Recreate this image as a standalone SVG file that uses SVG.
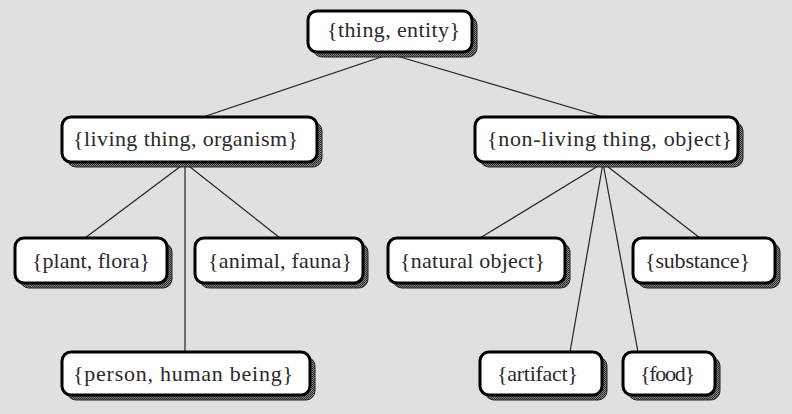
<svg xmlns="http://www.w3.org/2000/svg" width="792" height="414" viewBox="0 0 792 414">
<defs>
<pattern id="dots" width="2" height="2" patternUnits="userSpaceOnUse">
<rect width="2" height="2" fill="#888"/>
<rect width="1" height="1" fill="#222"/>
<rect x="1" y="1" width="1" height="1" fill="#333"/>
</pattern>
</defs>
<style>
.bg{fill:#e0e0e0}
.edge{stroke:#222;stroke-width:1.2;fill:none}
.shadow{fill:url(#dots);stroke:#222;stroke-width:1}
.box{fill:#fff;stroke:#000;stroke-width:3}
.label{font-family:'Liberation Serif','Times New Roman',serif;font-size:22px;fill:#2a2a2a}
</style>
<rect class="bg" x="0" y="0" width="792" height="414"/>
<g id="connectors">
<line class="edge" x1="390" y1="54" x2="203" y2="117"/>
<line class="edge" x1="390" y1="54" x2="603" y2="117"/>
<line class="edge" x1="185" y1="163" x2="85" y2="238"/>
<line class="edge" x1="185" y1="163" x2="280" y2="238"/>
<line class="edge" x1="185" y1="163" x2="185" y2="352"/>
<line class="edge" x1="603" y1="163" x2="480" y2="238"/>
<line class="edge" x1="603" y1="163" x2="700" y2="238"/>
<line class="edge" x1="603" y1="163" x2="570" y2="352"/>
<line class="edge" x1="603" y1="163" x2="638" y2="352"/>
</g>
<g id="thing">
<rect class="shadow" x="313" y="16" width="164" height="41" rx="9"/>
<rect class="box" x="308" y="11" width="164" height="41" rx="9"/>
<text class="label" x="327" y="37" textLength="133">{thing, entity}</text>
</g>
<g id="living">
<rect class="shadow" x="67" y="122" width="255" height="45" rx="9"/>
<rect class="box" x="62" y="117" width="255" height="45" rx="9"/>
<text class="label" x="73" y="146" textLength="225">{living thing, organism}</text>
</g>
<g id="nonliving">
<rect class="shadow" x="480" y="122" width="263" height="45" rx="9"/>
<rect class="box" x="475" y="117" width="263" height="45" rx="9"/>
<text class="label" x="487" y="146" textLength="245">{non-living thing, object}</text>
</g>
<g id="plant">
<rect class="shadow" x="20" y="243" width="152" height="45" rx="9"/>
<rect class="box" x="15" y="238" width="152" height="45" rx="9"/>
<text class="label" x="32" y="268" textLength="118">{plant, flora}</text>
</g>
<g id="animal">
<rect class="shadow" x="200" y="243" width="168" height="45" rx="9"/>
<rect class="box" x="195" y="238" width="168" height="45" rx="9"/>
<text class="label" x="208" y="268" textLength="144">{animal, fauna}</text>
</g>
<g id="natural">
<rect class="shadow" x="393" y="243" width="177" height="45" rx="9"/>
<rect class="box" x="388" y="238" width="177" height="45" rx="9"/>
<text class="label" x="400" y="268" textLength="145">{natural object}</text>
</g>
<g id="substance">
<rect class="shadow" x="638" y="243" width="142" height="45" rx="9"/>
<rect class="box" x="633" y="238" width="142" height="45" rx="9"/>
<text class="label" x="645" y="268" textLength="105">{substance}</text>
</g>
<g id="person">
<rect class="shadow" x="67" y="357" width="248" height="43" rx="9"/>
<rect class="box" x="62" y="352" width="248" height="43" rx="9"/>
<text class="label" x="73" y="381" textLength="220">{person, human being}</text>
</g>
<g id="artifact">
<rect class="shadow" x="485" y="357" width="122" height="43" rx="9"/>
<rect class="box" x="480" y="352" width="122" height="43" rx="9"/>
<text class="label" x="497" y="381" textLength="81">{artifact}</text>
</g>
<g id="food">
<rect class="shadow" x="628" y="357" width="92" height="43" rx="9"/>
<rect class="box" x="623" y="352" width="92" height="43" rx="9"/>
<text class="label" x="640" y="381" textLength="55">{food}</text>
</g>
</svg>
